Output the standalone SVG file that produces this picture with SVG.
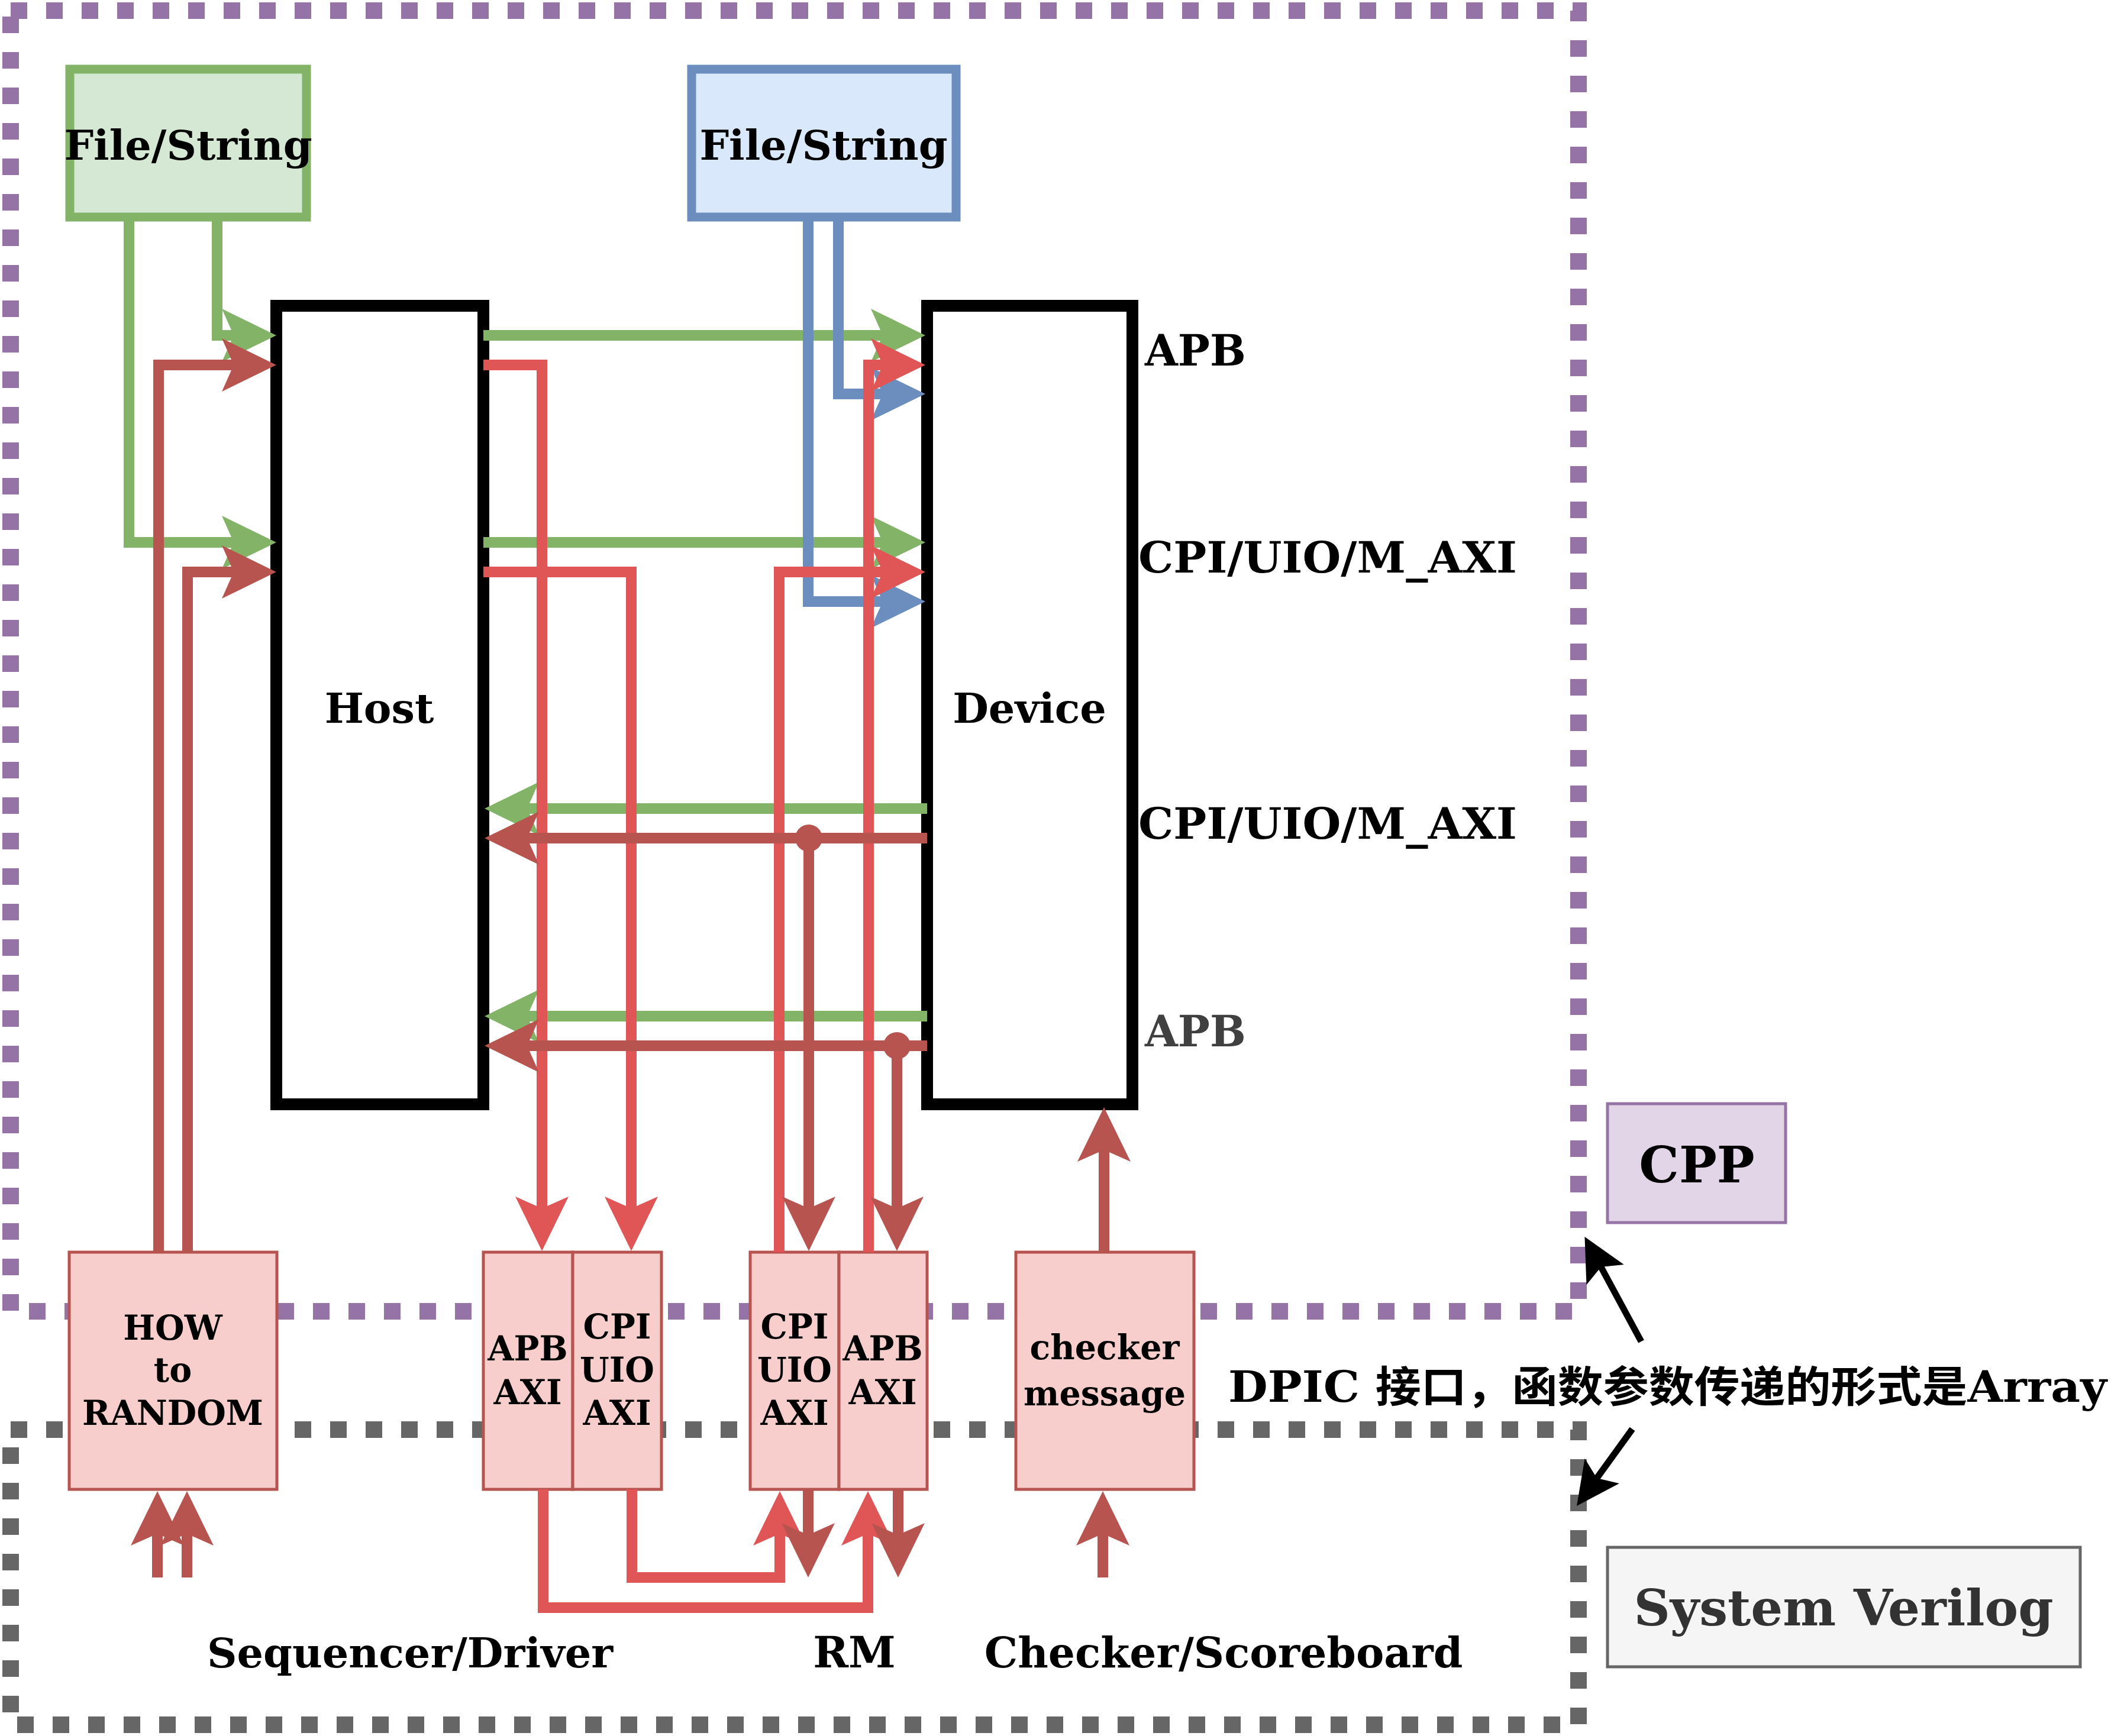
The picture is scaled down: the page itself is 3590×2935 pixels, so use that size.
<svg xmlns="http://www.w3.org/2000/svg" width="3590" height="2935" viewBox="0 0 3590 2935">
<style>
.t{font-family:"DejaVu Serif","Liberation Serif","Noto Sans CJK SC",serif;font-weight:bold;fill:#000}
.c{text-anchor:middle}
.big{font-size:72px}
.mid{font-size:70px}
.sm{font-size:57px}
.pink{fill:#f8cecc;stroke:#b85450;stroke-width:5}
.blk{fill:#fff;stroke:#000;stroke-width:20}
.ln{fill:none;stroke-width:18;stroke-linejoin:miter}
.g{stroke:#82b366}
.b{stroke:#6c8ebf}
.lr{stroke:#e05555}
.dr{stroke:#b85450}
.g.a{marker-end:url(#ag)}
.b.a{marker-end:url(#ab)}
.lr.a{marker-end:url(#alr)}
.dr.a{marker-end:url(#adr)}
</style>
<defs>
<marker id="ag" markerUnits="userSpaceOnUse" orient="auto" markerWidth="200" markerHeight="200" refX="0" refY="0" overflow="visible"><path d="M72,0 L-20,-45 L0,0 L-20,45 Z" fill="#82b366"/></marker>
<marker id="ab" markerUnits="userSpaceOnUse" orient="auto" markerWidth="200" markerHeight="200" refX="0" refY="0" overflow="visible"><path d="M72,0 L-20,-45 L0,0 L-20,45 Z" fill="#6c8ebf"/></marker>
<marker id="alr" markerUnits="userSpaceOnUse" orient="auto" markerWidth="200" markerHeight="200" refX="0" refY="0" overflow="visible"><path d="M72,0 L-20,-45 L0,0 L-20,45 Z" fill="#e05555"/></marker>
<marker id="adr" markerUnits="userSpaceOnUse" orient="auto" markerWidth="200" markerHeight="200" refX="0" refY="0" overflow="visible"><path d="M72,0 L-20,-45 L0,0 L-20,45 Z" fill="#b85450"/></marker>
<marker id="ak" markerUnits="userSpaceOnUse" orient="auto" markerWidth="200" markerHeight="200" refX="0" refY="0" overflow="visible"><path d="M58,0 L-15,-36 L0,0 L-15,36 Z" fill="#000"/></marker>
</defs>
<rect width="3590" height="2935" fill="#fff"/>
<g id="cpp-region">
<rect x="18" y="18" width="2650" height="2199" fill="none" stroke="#9673a6" stroke-width="28" stroke-dasharray="28 32"/>
</g>
<g id="sv-region">
<rect x="18" y="2417" width="2650" height="499" fill="none" stroke="#666666" stroke-width="28" stroke-dasharray="28 32"/>
</g>
<g id="file-green">
<rect x="118" y="117" width="400" height="250" fill="#d5e8d4" stroke="#82b366" stroke-width="15"/>
<text class="t c mid" x="318" y="270">File/String</text>
</g>
<g id="file-blue">
<rect x="1169" y="117" width="447" height="250" fill="#dae8fc" stroke="#6c8ebf" stroke-width="15"/>
<text class="t c mid" x="1392" y="270">File/String</text>
</g>
<g id="host">
<rect class="blk" x="467" y="517" width="350" height="1350"/>
<text class="t c mid" x="641" y="1222">Host</text>
</g>
<g id="device">
<rect class="blk" x="1567" y="517" width="347" height="1350"/>
<text class="t c mid" x="1740" y="1222">Device</text>
</g>
<g id="how-to-random">
<rect class="pink" x="117" y="2117" width="351" height="401"/>
<text class="t c sm" x="292" y="2265">HOW</text>
<text class="t c sm" x="292" y="2336">to</text>
<text class="t c sm" x="292" y="2409">RANDOM</text>
</g>
<g id="sd-apb">
<rect class="pink" x="817" y="2117" width="151" height="401"/>
<text class="t c sm" x="892" y="2300">APB</text>
<text class="t c sm" x="892" y="2374">AXI</text>
</g>
<g id="sd-cpi">
<rect class="pink" x="968" y="2117" width="150" height="401"/>
<text class="t c sm" x="1043" y="2263">CPI</text>
<text class="t c sm" x="1043" y="2336">UIO</text>
<text class="t c sm" x="1043" y="2409">AXI</text>
</g>
<g id="rm-cpi">
<rect class="pink" x="1268" y="2117" width="150" height="401"/>
<text class="t c sm" x="1343" y="2263">CPI</text>
<text class="t c sm" x="1343" y="2336">UIO</text>
<text class="t c sm" x="1343" y="2409">AXI</text>
</g>
<g id="rm-apb">
<rect class="pink" x="1418" y="2117" width="149" height="401"/>
<text class="t c sm" x="1492" y="2300">APB</text>
<text class="t c sm" x="1492" y="2374">AXI</text>
</g>
<g id="checker">
<rect class="pink" x="1717" y="2117" width="301" height="401"/>
<text class="t c sm" x="1867" y="2298">checker</text>
<text class="t c sm" x="1867" y="2376">message</text>
</g>
<g id="cpp">
<rect x="2717" y="1866" width="301" height="201" fill="#e1d5e7" stroke="#9673a6" stroke-width="5"/>
<text class="t c" font-size="85" x="2868" y="1999">CPP</text>
</g>
<g id="system-verilog">
<rect x="2717" y="2616" width="799" height="202" fill="#f5f5f5" stroke="#666666" stroke-width="5"/>
<text class="t c" font-size="85" x="3116" y="2748" style="fill:#333333">System Verilog</text>
</g>
<g id="labels">
<text class="t big" x="1935" y="618">APB</text>
<text class="t big" x="1924" y="968" textLength="640" lengthAdjust="spacingAndGlyphs">CPI/UIO/M_AXI</text>
<text class="t big" x="1924" y="1418" textLength="640" lengthAdjust="spacingAndGlyphs">CPI/UIO/M_AXI</text>
<text class="t big" x="1935" y="1769" style="fill:#404040">APB</text>
<text class="t c" font-size="70" x="693" y="2819">Sequencer/Driver</text>
<text class="t c" font-size="72" x="1444" y="2819">RM</text>
<text class="t c" font-size="71" x="2068" y="2819">Checker/Scoreboard</text>
<text class="t big" x="2076" y="2370" textLength="1485" lengthAdjust="spacingAndGlyphs">DPIC 接口，函数参数传递的形式是Array</text>
</g>
<g id="connectors">
<path class="ln g a" d="M367,367 V567 H395"/>
<path class="ln g a" d="M218,367 V917 H395"/>
<path class="ln g a" d="M817,567 H1492"/>
<path class="ln g a" d="M817,917 H1492"/>
<path class="ln g a" d="M1567,1367 H891"/>
<path class="ln g a" d="M1567,1718 H891"/>
<path class="ln b a" d="M1417,367 V666 H1492"/>
<path class="ln b a" d="M1366,367 V1017 H1492"/>
<path class="ln dr a" d="M268,2117 V617 H395"/>
<path class="ln dr a" d="M317,2117 V967 H395"/>
<path class="ln lr a" d="M817,617 H916 V2043"/>
<path class="ln lr a" d="M817,967 H1067 V2043"/>
<path class="ln lr a" d="M1468,2117 V617 H1492"/>
<path class="ln lr a" d="M1317,2117 V967 H1492"/>
<path class="ln dr a" d="M1567,1417 H891"/>
<path class="ln dr a" d="M1567,1768 H891"/>
<path class="ln dr a" d="M1367,1417 V2043"/>
<path class="ln dr a" d="M1516,1768 V2043"/>
<circle cx="1367" cy="1417" r="23" fill="#b85450"/>
<circle cx="1516" cy="1768" r="23" fill="#b85450"/>
<path class="ln lr a" d="M918,2518 V2718 H1467 V2593"/>
<path class="ln lr a" d="M1068,2518 V2667 H1318 V2593"/>
<path class="ln dr a" d="M1366,2518 V2595"/>
<path class="ln dr a" d="M1518,2518 V2595"/>
<path class="ln dr a" d="M266,2667 V2593"/>
<path class="ln dr a" d="M316,2667 V2593"/>
<path class="ln dr a" d="M1864,2667 V2593"/>
<path class="ln dr a" d="M1866,2117 V1944"/>
<path d="M2774,2268 L2706,2142" fill="none" stroke="#000" stroke-width="11" marker-end="url(#ak)"/>
<path d="M2759,2416 L2699,2499" fill="none" stroke="#000" stroke-width="11" marker-end="url(#ak)"/>
</g>
</svg>
